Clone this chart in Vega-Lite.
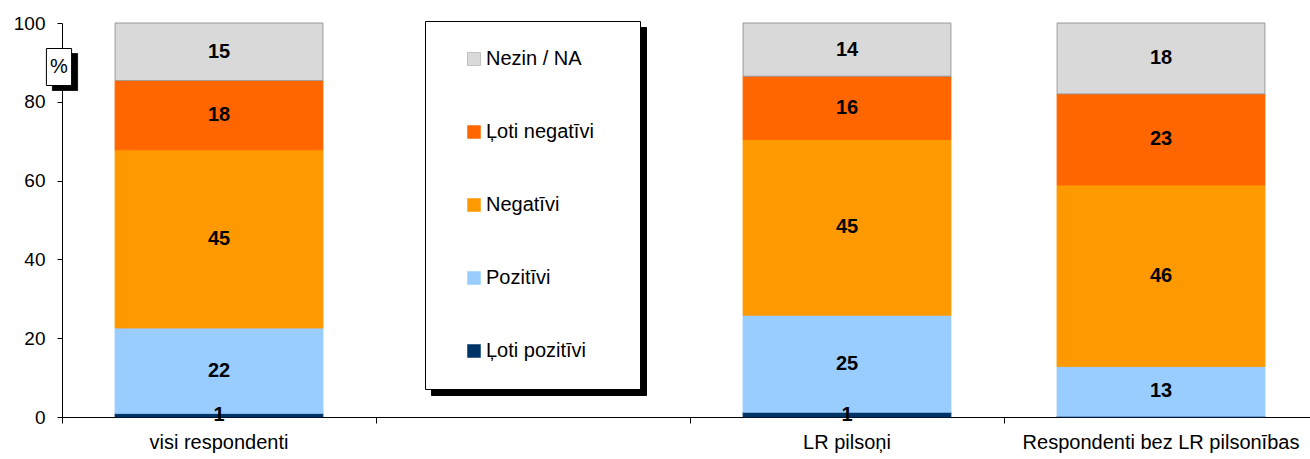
{
  "$schema": "https://vega.github.io/schema/vega-lite/v6.json",
  "width": 1256,
  "height": 394,
  "autosize": {"type": "none"},
  "padding": {"left": 62, "top": 23, "right": 0, "bottom": 42},
  "background": "white",
  "config": {"view": {"stroke": null}, "font": "Liberation Sans"},
  "data": {
    "values": [
      {"g": "visi respondenti", "k": "Ļoti pozitīvi", "v": 0.9},
      {"g": "visi respondenti", "k": "Pozitīvi", "v": 21.7},
      {"g": "visi respondenti", "k": "Negatīvi", "v": 45.2},
      {"g": "visi respondenti", "k": "Ļoti negatīvi", "v": 17.6},
      {"g": "visi respondenti", "k": "Nezin / NA", "v": 14.6},
      {"g": "LR pilsoņi", "k": "Ļoti pozitīvi", "v": 1.2},
      {"g": "LR pilsoņi", "k": "Pozitīvi", "v": 24.6},
      {"g": "LR pilsoņi", "k": "Negatīvi", "v": 44.6},
      {"g": "LR pilsoņi", "k": "Ļoti negatīvi", "v": 16.1},
      {"g": "LR pilsoņi", "k": "Nezin / NA", "v": 13.5},
      {"g": "Respondenti bez LR pilsonības", "k": "Ļoti pozitīvi", "v": 0.2},
      {"g": "Respondenti bez LR pilsonības", "k": "Pozitīvi", "v": 12.6},
      {"g": "Respondenti bez LR pilsonības", "k": "Negatīvi", "v": 46.1},
      {"g": "Respondenti bez LR pilsonības", "k": "Ļoti negatīvi", "v": 23.1},
      {"g": "Respondenti bez LR pilsonības", "k": "Nezin / NA", "v": 18.0}
    ]
  },
  "transform": [
    {"calculate": "indexof(['Ļoti pozitīvi','Pozitīvi','Negatīvi','Ļoti negatīvi','Nezin / NA'], datum.k)", "as": "o"},
    {"calculate": "datum.k", "as": "k2"},
    {"calculate": "'%'", "as": "p"},
    {"calculate": "'%'", "as": "p2"},
    {"stack": "v", "groupby": ["g"], "sort": [{"field": "o", "order": "ascending"}], "as": ["y0", "y1"]},
    {"calculate": "(datum.y0 + datum.y1) / 2", "as": "ym"}
  ],
  "encoding": {
    "x": {
      "field": "g",
      "type": "nominal",
      "scale": {
        "domain": ["visi respondenti", " ", "LR pilsoņi", "Respondenti bez LR pilsonības"],
        "paddingInner": 0,
        "paddingOuter": 0
      },
      "axis": {
        "title": null,
        "bandPosition": 0,
        "labelAngle": 0,
        "tickSize": 6,
        "labelPadding": 9,
        "labelFontSize": 20,
        "labelLimit": 400,
        "labelColor": "black",
        "domainColor": "black",
        "tickColor": "black",
        "labelFont": "Liberation Sans"
      }
    }
  },
  "layer": [
    {
      "mark": {"type": "bar", "width": {"band": 0.662}, "strokeWidth": 1},
      "encoding": {
        "y": {
          "field": "y0",
          "type": "quantitative",
          "scale": {"domain": [0, 100]},
          "axis": {
            "values": [0, 20, 40, 60, 80, 100],
            "grid": false,
            "title": null,
            "labelFontSize": 19,
            "labelColor": "black",
            "labelFont": "Liberation Sans",
            "domainColor": "black",
            "tickColor": "black",
            "tickSize": 5,
            "labelPadding": 12
          }
        },
        "y2": {"field": "y1"},
        "fill": {
          "field": "k",
          "type": "nominal",
          "scale": {
            "domain": ["Nezin / NA", "Ļoti negatīvi", "Negatīvi", "Pozitīvi", "Ļoti pozitīvi"],
            "range": ["#D9D9D9", "#FF6600", "#FF9900", "#99CCFF", "#003366"]
          },
          "legend": {
            "title": null,
            "orient": "none",
            "legendX": 363,
            "legendY": -2,
            "direction": "vertical",
            "strokeColor": "black",
            "fillColor": "white",
            "padding": 28,
            "symbolType": "M-1,-1L1,-1L1,1L-1,1ZM21,0",
            "symbolSize": 169,
            "symbolStrokeColor": "#969696",
            "symbolStrokeWidth": 0.5,
            "labelFontSize": 20,
            "labelColor": "black",
            "labelFont": "Liberation Sans",
            "rowPadding": 53,
            "symbolOffset": 11,
            "labelOffset": 2,
            "zindex": 3
          }
        },
        "opacity": {
          "field": "k2",
          "type": "nominal",
          "scale": {"range": [1, 1, 1, 1, 1]},
          "legend": {
            "title": null,
            "orient": "none",
            "legendX": 369,
            "legendY": 4,
            "direction": "vertical",
            "strokeColor": "black",
            "fillColor": "black",
            "padding": 28,
            "symbolType": "M-1,-1L1,-1L1,1L-1,1ZM21,0",
            "symbolSize": 169,
            "symbolFillColor": "black",
            "symbolStrokeColor": "black",
            "symbolStrokeWidth": 0.5,
            "labelFontSize": 20,
            "labelColor": "black",
            "labelFont": "Liberation Sans",
            "labelExpr": "'\u00a0'",
            "rowPadding": 53,
            "symbolOffset": 11,
            "labelOffset": 2,
            "zindex": 2
          }
        },
        "strokeWidth": {
          "field": "p",
          "type": "nominal",
          "scale": {"domain": ["%"], "range": [1]},
          "legend": {
            "title": null,
            "orient": "none",
            "legendX": -3,
            "legendY": 44,
            "padding": 0,
            "symbolType": "M-0.68,-1L0.68,-1L0.68,1L-0.68,1Z",
            "symbolSize": 1369,
            "symbolFillColor": "white",
            "symbolStrokeColor": "black",
            "symbolStrokeWidth": 1,
            "labelFontSize": 20,
            "labelColor": "black",
            "labelFont": "Liberation Sans",
            "labelAlign": "center",
            "labelOffset": -19,
            "zindex": 3
          }
        },
        "strokeDash": {
          "field": "p2",
          "type": "nominal",
          "scale": {"range": [[1, 0]]},
          "legend": {
            "title": null,
            "orient": "none",
            "legendX": -16,
            "legendY": 30,
            "padding": 0,
            "symbolType": "M-0.68,-1L0.68,-1L0.68,1L-0.68,1Z",
            "symbolSize": 1369,
            "symbolFillColor": "black",
            "symbolStrokeColor": "black",
            "symbolStrokeWidth": 1,
            "symbolDash": [1, 0],
            "labelFontSize": 20,
            "labelColor": "black",
            "labelFont": "Liberation Sans",
            "labelExpr": "'\u00a0'",
            "labelAlign": "center",
            "labelOffset": -19,
            "zindex": 2
          }
        },
        "stroke": {
          "field": "k",
          "type": "nominal",
          "scale": {
            "domain": ["Nezin / NA", "Ļoti negatīvi", "Negatīvi", "Pozitīvi", "Ļoti pozitīvi"],
            "range": ["#969696", "#FF6600", "#FF9900", "#99CCFF", "#003366"]
          },
          "legend": null
        }
      }
    },
    {
      "transform": [{"filter": "datum.v >= 0.5"}],
      "mark": {"type": "text", "fontWeight": "bold", "fontSize": 20, "color": "black", "font": "Liberation Sans"},
      "encoding": {
        "y": {"field": "ym", "type": "quantitative"},
        "text": {"field": "v", "type": "quantitative", "format": ".0f"}
      }
    }
  ]
}
